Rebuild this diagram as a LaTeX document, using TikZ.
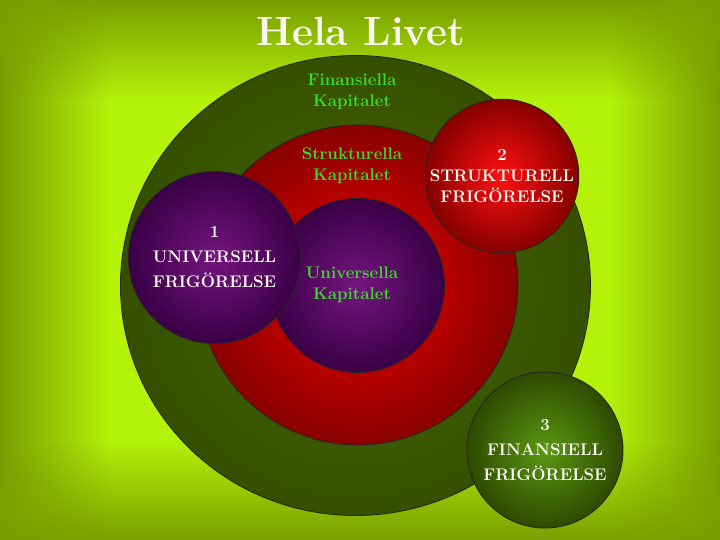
\documentclass[tikz,border=0pt]{standalone}
\usetikzlibrary{positioning,shapes.geometric,fadings}
\definecolor{bgdark}{HTML}{7A9E00}
\definecolor{bglight}{HTML}{B4F20A}
\definecolor{kapgreen}{HTML}{3CDC28}
\definecolor{friwhite}{HTML}{FAFAF2}
\definecolor{purplein}{HTML}{74157F}
\definecolor{purpleout}{HTML}{3A0046}
\definecolor{redin}{HTML}{FF1010}
\definecolor{redout}{HTML}{860000}
\definecolor{greenin}{HTML}{5A9812}
\definecolor{greenout}{HTML}{2E4A00}
\definecolor{bigredin}{HTML}{F00000}
\definecolor{bigredout}{HTML}{880000}
\definecolor{biggreenin}{HTML}{486A04}
\definecolor{biggreenout}{HTML}{354F00}
\tikzfading[name=edgeL, left color=transparent!0, right color=transparent!100]
\tikzfading[name=edgeR, left color=transparent!100, right color=transparent!0]
\tikzfading[name=edgeT, top color=transparent!0, bottom color=transparent!100]
\tikzfading[name=edgeB, top color=transparent!100, bottom color=transparent!0]

\begin{document}
\begin{tikzpicture}[
    x=0.25mm,y=-0.25mm,
    orb/.style={circle,draw=black!85,line width=0.6pt,inner sep=0pt,align=center},
    purpleorb/.style={orb,shade,inner color=purplein,outer color=purpleout},
    redorb/.style={orb,shade,inner color=redin,outer color=redout},
    greenorb/.style={orb,shade,inner color=greenin,outer color=greenout},
    kap/.style={text=kapgreen,align=center,inner sep=0pt,font=\fontsize{12}{15}\selectfont\bfseries},
    fri/.style={text=friwhite,font=\fontsize{12}{#1}\selectfont\bfseries},
    fri/.default=17,
  ]
    \useasboundingbox (0,0) rectangle (720,540);
    % background
    \fill[bglight] (0,0) rectangle (720,540);
    \fill[bgdark,path fading=edgeL,fit fading=true] (0,0) rectangle (110,540);
    \fill[bgdark,path fading=edgeR,fit fading=true] (610,0) rectangle (720,540);
    \fill[bgdark,path fading=edgeT,fit fading=true] (0,0) rectangle (720,100);
    \fill[bgdark,path fading=edgeB,fit fading=true] (0,440) rectangle (720,540);

    \node[ellipse,draw=black!85,line width=0.6pt,inner sep=0pt,shade,inner color=biggreenin,outer color=biggreenout,
      minimum width=117.5mm,minimum height=115mm] (finkap) at (355.5,285.5) {};
    \node[orb,shade,inner color=bigredin,outer color=bigredout,minimum size=80mm] (strukap) at (358,285) {};
    \node[purpleorb,minimum size=43.5mm] (univkap) at (357.5,285.5) {};

    \node[kap] (finlbl) at (352,92) {Finansiella\\Kapitalet};
    \node[kap] (strulbl) at (352,166) {Strukturella\\Kapitalet};
    \node[kap] (univlbl) at (352,285) {Universella\\Kapitalet};

    \node[purpleorb,fri=17.8,minimum size=43mm] (univfri) at (214.5,257.5) {1\\UNIVERSELL\\FRIGÖRELSE};
    \node[redorb,fri=15,minimum size=38mm] (strukfri) at (502,176) {2\\STRUKTURELL\\FRIGÖRELSE};
    \node[greenorb,fri=17.5,minimum size=39mm] (finfri) at (545,450) {3\\FINANSIELL\\FRIGÖRELSE};

    \node[text=friwhite,inner sep=0pt,font=\fontsize{29}{34}\selectfont\bfseries] (titel) at (361,31) {Hela Livet};
\end{tikzpicture}
\end{document}
